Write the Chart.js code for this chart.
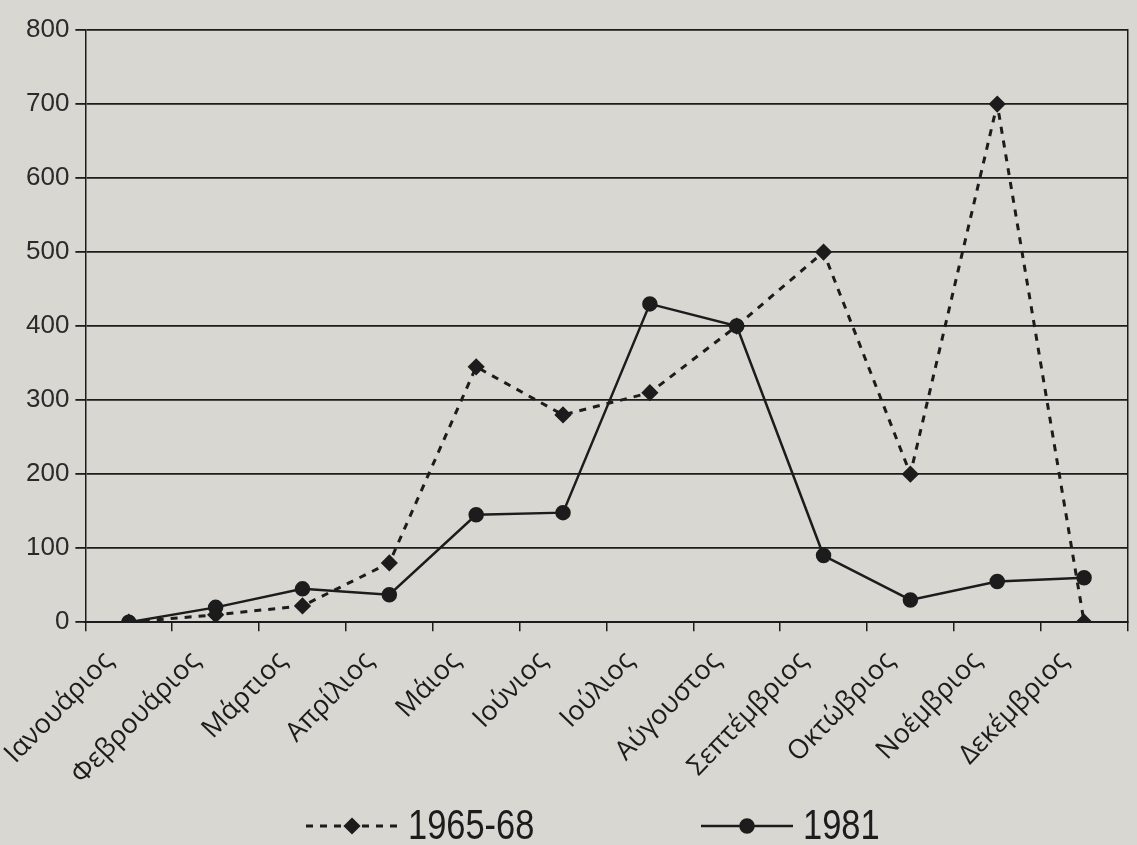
<!DOCTYPE html>
<html lang="el">
<head>
<meta charset="utf-8">
<title>1965-68 / 1981</title>
<script src="https://cdn.jsdelivr.net/npm/chart.js@4.4.1/dist/chart.umd.min.js"></script>
<style>
html, body { margin: 0; padding: 0; background: #d9d7d2; }
#wrap { width: 1137px; height: 845px; position: relative; }
</style>
</head>
<body>
<div id="wrap"><canvas id="chart"></canvas></div>
<script>
// data
const months = ["Ιανουάριος", "Φεβρουάριος", "Μάρτιος", "Απρίλιος", "Μάιος", "Ιούνιος",
  "Ιούλιος", "Αύγουστος", "Σεπτέμβριος", "Οκτώβριος", "Νοέμβριος", "Δεκέμβριος"];
const values6568 = [0, 10, 22, 80, 345, 280, 310, 400, 500, 200, 700, 0];
const values1981 = [0, 20, 45, 37, 145, 148, 430, 400, 90, 30, 55, 60];
const yTicks = [0, 100, 200, 300, 400, 500, 600, 700, 800];

const ink = "#1c1c1c";

// key at the bottom: line + marker + label, drawn like the print
const seriesKey = {
  id: "seriesKey",
  afterDraw(chart, args, opts) {
    const ctx = chart.ctx;
    chart.data.datasets.forEach((ds, i) => {
      const x = opts.x[i], y = opts.y;
      ctx.save();
      ctx.strokeStyle = ds.borderColor;
      ctx.fillStyle = ds.pointBackgroundColor;
      ctx.lineWidth = ds.borderWidth;
      ctx.setLineDash(ds.borderDash || []);
      ctx.beginPath();
      ctx.moveTo(x, y);
      ctx.lineTo(x + opts.lineLen, y);
      ctx.stroke();
      ctx.setLineDash([]);
      Chart.helpers.drawPoint(ctx, {pointStyle: ds.pointStyle, radius: ds.pointRadius, borderWidth: 1}, x + opts.lineLen / 2, y);
      // the print uses a condensed face; squeeze the text horizontally
      ctx.translate(x + opts.lineLen + 10, y + 1);
      ctx.scale(opts.squeeze, 1);
      ctx.font = opts.font;
      ctx.textBaseline = "middle";
      ctx.fillStyle = ink;
      ctx.fillText(ds.label, 0, 0);
      ctx.restore();
    });
  }
};

new Chart(document.getElementById("chart"), {
  type: "line",
  data: {
    labels: months,
    datasets: [
      {
        label: "1965-68",
        data: values6568,
        borderColor: ink,
        borderWidth: 3,
        borderDash: [7, 7],
        pointStyle: "rectRot",
        pointRadius: 6.5,
        pointBackgroundColor: ink,
        pointBorderColor: ink,
        tension: 0
      },
      {
        label: "1981",
        data: values1981,
        borderColor: ink,
        borderWidth: 2.5,
        pointStyle: "circle",
        pointRadius: 6.5,
        pointBackgroundColor: ink,
        pointBorderColor: ink,
        tension: 0
      }
    ]
  },
  options: {
    responsive: true,
    maintainAspectRatio: false,
    animation: false,
    layout: { padding: { left: 20, right: 5, top: 30, bottom: 40 } },
    plugins: {
      legend: { display: false },
      tooltip: { enabled: false },
      seriesKey: { x: [306, 701], y: 826, lineLen: 92, squeeze: 0.82,
        font: '42px "Liberation Sans", Arial, sans-serif' }
    },
    scales: {
      x: {
        offset: true,
        grid: { offset: true, drawOnChartArea: false, drawTicks: true, tickLength: 9, color: ink, lineWidth: 1.5 },
        border: { color: ink, width: 2 },
        ticks: {
          color: ink,
          minRotation: 46,
          maxRotation: 46,
          padding: 14,
          labelOffset: -20,
          font: { family: '"Open Sans", sans-serif', size: 27 }
        }
      },
      y: {
        min: 0,
        max: 800,
        afterBuildTicks: (axis) => { axis.ticks = yTicks.map(v => ({ value: v })); },
        grid: { color: ink, lineWidth: 1.8, tickLength: 10 },
        border: { color: ink, width: 1.5 },
        ticks: {
          color: "#2a2a2a",
          padding: 6,
          font: { family: '"Liberation Sans", Arial, sans-serif', size: 26 }
        }
      },
      y2: {
        position: "right",
        min: 0,
        max: 800,
        grid: { drawOnChartArea: false, drawTicks: false },
        border: { color: ink, width: 1.5 },
        ticks: { display: false }
      }
    }
  },
  plugins: [seriesKey]
});
</script>
</body>
</html>
